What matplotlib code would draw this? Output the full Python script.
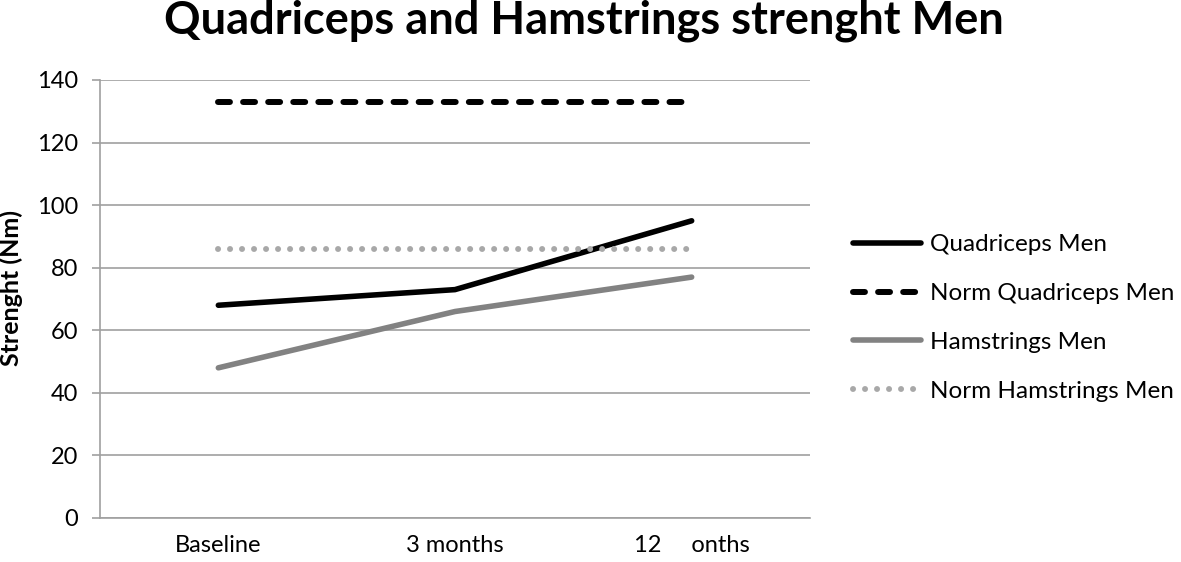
import matplotlib.pyplot as plt

plt.rcParams['font.family'] = ['Lato', 'DejaVu Sans']

categories = ['Baseline', '3 months', '12     onths']
quadriceps = [68, 73, 95]
norm_quadriceps = [133, 133, 133]
hamstrings = [48, 66, 77]
norm_hamstrings = [86, 86, 86]

fig = plt.figure(figsize=(11.81, 5.62), dpi=100)
ax = fig.add_axes([100 / 1181, 1 - 518 / 562, 710 / 1181, 438 / 562])

x = range(len(categories))
ax.plot(x, quadriceps, color='black', lw=4.0, solid_capstyle='round', label='Quadriceps Men')
ax.plot(x, norm_quadriceps, color='black', lw=4.3, dashes=(2.0, 2.2), dash_capstyle='round',
        label='Norm Quadriceps Men')
ax.plot(x, hamstrings, color='#828282', lw=4.0, solid_capstyle='round', label='Hamstrings Men')
ax.plot(x, norm_hamstrings, color='#a8a8a8', lw=4.3, dashes=(0.01, 2.0), dash_capstyle='round',
        label='Norm Hamstrings Men')

ax.set_xlim(-0.5, 2.5)
ax.set_ylim(0, 140)
ax.set_yticks(range(0, 141, 20))
ax.set_xticks(list(x))
ax.set_xticklabels(categories)
ax.grid(axis='y', color='#a0a0a0', lw=1.2)
ax.set_axisbelow(True)
for side in ['top', 'right']:
    ax.spines[side].set_visible(False)
ax.spines['left'].set_color('#a0a0a0')
ax.spines['bottom'].set_color('#a0a0a0')
ax.spines['left'].set_linewidth(1.2)
ax.spines['bottom'].set_linewidth(1.2)
ax.tick_params(axis='y', direction='out', length=6, color='#a0a0a0', width=1.2,
               labelsize=17, pad=10)
ax.tick_params(axis='x', length=0, labelsize=17, pad=12)

ax.set_ylabel('Strenght (Nm)', fontsize=18, fontweight='bold')
ax.yaxis.set_label_coords(-77 / 710, (518 - 288) / 438)

fig.suptitle('Quadriceps and Hamstrings strenght Men', fontsize=32.5, fontweight='bold',
             x=584 / 1181, y=1 - 0 / 562, va='top')

ax.legend(loc='center left', bbox_to_anchor=(743 / 710, (518 - 318) / 438), frameon=False,
          fontsize=17.5, handlelength=2.8, handletextpad=0.4, labelspacing=1.15,
          borderaxespad=0)

fig.savefig('out.png', dpi=100)
